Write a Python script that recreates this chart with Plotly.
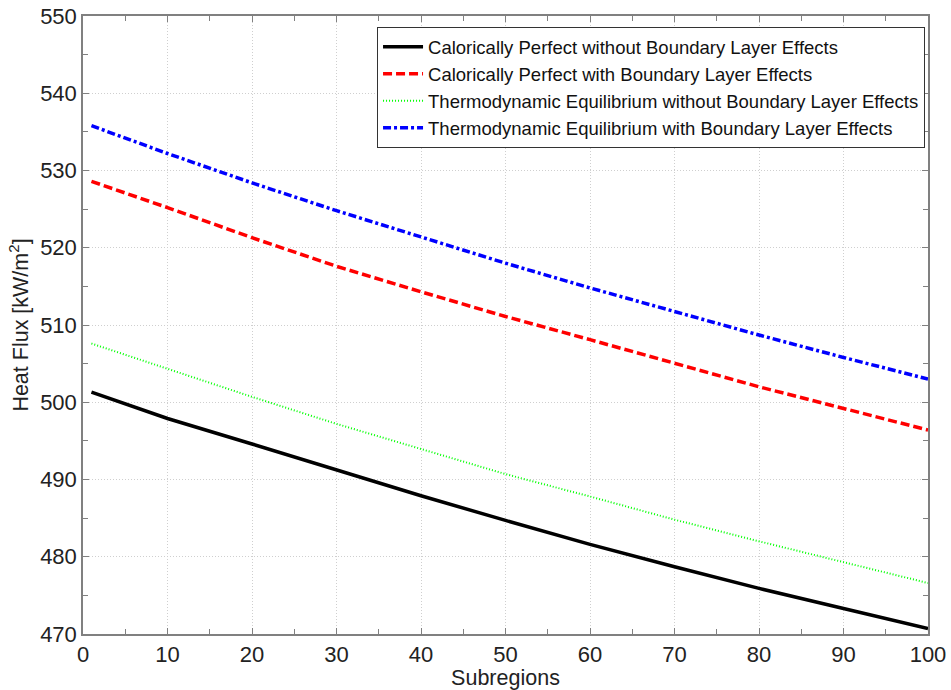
import plotly.graph_objects as go

subregions = [1, 10, 20, 30, 40, 50, 60, 70, 80, 90, 100]
cp_no_bl = [501.3, 497.9, 494.6, 491.2, 487.9, 484.7, 481.6, 478.7, 475.9, 473.3, 470.7]
cp_bl = [528.6, 525.2, 521.3, 517.6, 514.3, 511.1, 508.1, 505.0, 502.0, 499.2, 496.4]
te_no_bl = [507.6, 504.3, 500.7, 497.2, 493.9, 490.7, 487.8, 484.8, 482.0, 479.3, 476.6]
te_bl = [535.8, 532.2, 528.4, 524.8, 521.4, 518.0, 514.8, 511.7, 508.7, 505.8, 503.0]

names = [
    "Calorically Perfect without Boundary Layer Effects",
    "Calorically Perfect with Boundary Layer Effects",
    "Thermodynamic Equilibrium without Boundary Layer Effects",
    "Thermodynamic Equilibrium with Boundary Layer Effects",
]
series = [cp_no_bl, cp_bl, te_no_bl, te_bl]
styles = [
    dict(color="#000000", width=3.5, dash="solid"),
    dict(color="#ff0000", width=3.5, dash="9px,4px"),
    dict(color="#00ff00", width=2, dash="1px,2px"),
    dict(color="#0000ff", width=3.5, dash="8px,3px,3px,3px"),
]

fig = go.Figure()
for n, s, st in zip(names, series, styles):
    fig.add_trace(go.Scatter(x=subregions, y=s, mode="lines", name=n,
                             line=dict(color=st["color"], width=st["width"], dash=st["dash"])))

font_family = "Liberation Sans, Arial, sans-serif"
axis_common = dict(
    automargin=False,
    showline=True, linecolor="#808080", linewidth=1.5, mirror="ticks",
    ticks="inside", ticklen=6, tickcolor="#808080", tickwidth=1,
    showgrid=True, gridcolor="#cfcfcf", griddash="1px,2px", gridwidth=1,
    zeroline=False,
    tickfont=dict(size=22, color="#222", family=font_family),
    minor=dict(ticks="inside", ticklen=5, tickcolor="#808080", dtick=5, showgrid=False),
)

fig.update_layout(
    width=951, height=690,
    margin=dict(l=83, r=23, t=16, b=56, autoexpand=False),
    paper_bgcolor="white", plot_bgcolor="white",
    font=dict(family=font_family, color="#222"),
    xaxis=dict(range=[0, 100], dtick=10, tick0=0,
               title=dict(text="Subregions", font=dict(size=21.5), standoff=6),
               **axis_common),
    yaxis=dict(range=[470, 550], dtick=10, tick0=470,
               title=dict(text="Heat Flux [kW/m<sup>2</sup>]", font=dict(size=21.5), standoff=6),
               **axis_common),
    legend=dict(x=0.9965, y=0.982, xanchor="right", yanchor="top",
                bgcolor="white", bordercolor="#333", borderwidth=1,
                font=dict(size=18.5, color="#111", family=font_family),
                itemwidth=40, tracegroupgap=0),
    showlegend=True,
)

fig.write_html("out.html")
